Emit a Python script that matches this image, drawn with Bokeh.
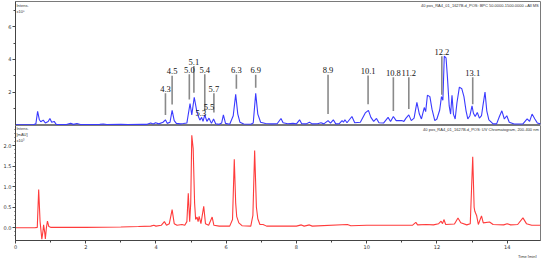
from bokeh.plotting import figure
from bokeh.layouts import column
from bokeh.models import Range1d, FixedTicker, Label, ColumnDataSource, Title, PrintfTickFormatter
from bokeh.core.properties import value
from bokeh.embed import file_html
from bokeh.resources import INLINE

# ---- BPC (upper, x10^5) ----
bpc_t = [0.0, 0.5, 0.58, 0.63, 0.68, 0.72, 0.79, 0.85, 0.93, 0.98, 1.03, 1.1, 1.16, 1.45, 1.57, 1.65, 1.75, 1.85,
         2.4, 2.5, 2.6, 3.0, 3.2, 3.6, 3.75, 3.85, 3.92, 3.99, 4.08, 4.2, 4.27, 4.32, 4.4, 4.46, 4.52, 4.58, 4.7,
         4.78, 4.88, 4.97, 5.02, 5.09, 5.16, 5.2, 5.25, 5.3, 5.34, 5.39, 5.45, 5.51, 5.58, 5.64, 5.7, 5.8, 5.87,
         5.92, 5.98, 6.1, 6.2, 6.27, 6.33, 6.39, 6.5, 6.7, 6.77, 6.84, 6.9, 6.98, 7.12, 7.3, 7.45, 7.56, 7.62,
         7.75, 7.9, 8.0, 8.09, 8.15, 8.28, 8.37, 8.45, 8.6, 8.7, 8.78, 8.9, 8.97, 9.05, 9.12, 9.22, 9.3, 9.34,
         9.38, 9.44, 9.58, 9.66, 9.82, 9.96, 10.05, 10.12, 10.2, 10.28, 10.35, 10.48, 10.61, 10.68, 10.76, 10.84,
         11.0, 11.06, 11.12, 11.2, 11.27, 11.35, 11.43, 11.5, 11.56, 11.64, 11.68, 11.73, 11.8, 11.86, 11.94,
         12.0, 12.08, 12.13, 12.17, 12.21, 12.26, 12.3, 12.35, 12.39, 12.43, 12.47, 12.52, 12.57, 12.64, 12.71,
         12.77, 12.83, 12.88, 12.94, 13.0, 13.04, 13.09, 13.15, 13.21, 13.27, 13.31, 13.37, 13.42, 13.48, 13.6,
         13.7, 13.78, 13.85, 13.92, 13.99, 14.06, 14.2, 14.45, 14.57, 14.64, 14.71, 14.79, 14.86, 14.95]
bpc_v = [0.0, 0.0, 0.05, 0.82, 0.3, 0.18, 0.28, 0.1, 0.2, 0.38, 0.15, 0.2, 0.02, 0.01, 0.08, 0.02, 0.07, 0.01,
         0.02, 0.04, 0.01, 0.03, 0.01, 0.03, 0.02, 0.1, 0.04, 0.12, 0.05, 0.15, 0.3, 0.08, 0.15, 0.88, 0.25, 0.08, 0.05,
         0.07, 0.1, 1.3, 0.6, 1.68, 0.85, 0.55, 0.28, 0.45, 0.2, 0.6, 0.2, 0.4, 0.08, 0.35, 0.06, 0.02, 0.1,
         0.6, 0.08, 0.03, 0.55, 1.86, 0.65, 0.15, 0.04, 0.03, 0.1, 1.92, 0.65, 0.15, 0.07, 0.05, 0.06, 0.38, 0.12,
         0.06, 0.08, 0.05, 0.3, 0.06, 0.05, 0.15, 0.05, 0.06, 0.12, 0.05, 0.25, 0.1, 0.3, 0.05, 0.06, 0.25, 0.15,
         0.3, 0.12, 0.5, 0.12, 0.15, 0.72, 0.88, 0.45, 0.2, 0.38, 0.12, 0.1, 0.45, 0.2, 0.5, 0.25,
         0.25, 0.2, 0.4, 0.6, 0.25, 0.4, 1.37, 0.65, 0.35, 1.05, 0.8, 1.8, 1.72, 0.95, 0.25,
         0.35, 0.9, 1.72, 1.5, 4.2, 4.1, 2.9, 1.15, 0.65, 1.8, 0.65, 0.35, 1.33, 2.3, 2.2,
         1.72, 0.85, 0.35, 0.55, 1.15, 0.7, 0.5, 0.75, 0.4, 0.55, 1.15, 2.0, 0.85, 0.3, 0.05,
         0.05, 0.5, 0.85, 0.35, 0.55, 0.15, 0.04, 0.05, 0.35, 0.2, 0.65, 0.35, 0.1, 0.05]

# ---- UV (lower, mAU x10^3) ----
uv_t = [0.0, 0.55, 0.62, 0.66, 0.7, 0.75, 0.78, 0.8, 0.83, 0.85, 0.88, 0.91, 0.95, 1.0, 2.0, 3.0, 3.5, 3.85, 3.94,
        4.0, 4.15, 4.24, 4.3, 4.38, 4.46, 4.52, 4.6, 4.74, 4.82, 4.88, 4.92, 4.96, 4.99, 5.02, 5.06, 5.1, 5.13,
        5.17, 5.2, 5.23, 5.28, 5.36, 5.41, 5.5, 5.6, 5.65, 5.8, 6.1, 6.18, 6.23, 6.27, 6.3, 6.36, 6.45, 6.7,
        6.76, 6.81, 6.86, 6.9, 6.96, 7.05, 7.15, 8.0, 8.14, 8.22, 8.37, 8.45, 9.45, 9.55, 10.0, 11.3, 11.4,
        11.45, 11.7, 11.9, 12.05, 12.12, 12.16, 12.2, 12.25, 12.5, 12.6, 12.68, 12.85, 12.95, 13.02, 13.06,
        13.08, 13.13, 13.18, 13.27, 13.32, 13.5, 13.6, 13.9, 14.0, 14.1, 14.3, 14.45, 14.55, 14.7, 14.95]
uv_v = [0.0, 0.0, 0.01, 0.93, 0.15, -0.28, -0.1, 0.07, -0.1, -0.27, 0.0, 0.16, 0.03, 0.01, 0.01, 0.02, 0.03, 0.04, 0.06,
        0.04, 0.06, 0.15, 0.06, 0.1, 0.44, 0.1, 0.06, 0.08, 0.06, 0.15, 0.84, 0.15, 0.6, 2.25, 1.92, 0.6, 0.2,
        0.26, 0.15, 0.28, 0.1, 0.52, 0.1, 0.06, 0.26, 0.06, 0.04, 0.04, 0.2, 1.67, 0.6, 0.27, 0.12, 0.05, 0.04,
        0.3, 1.88, 0.5, 0.22, 0.08, 0.08, 0.04, 0.04, 0.07, 0.04, 0.07, 0.04, 0.08, 0.05, 0.06, 0.06, 0.13,
        0.07, 0.08, 0.07, 0.1, 0.16, 0.1, 0.2, 0.08, 0.09, 0.24, 0.12, 0.07, 0.1, 1.73, 0.5,
        0.4, 0.3, 0.08, 0.29, 0.12, 0.14, 0.08, 0.07, 0.1, 0.07, 0.08, 0.24, 0.1, 0.06, 0.06]

# ---- peak annotations ----
peak_labels = ["4.3", "4.5", "5.0", "5.1", "5.4", "5.7", "6.3", "6.9", "8.9", "10.1", "10.8", "11.2", "12.2", "13.1"]
peak_t = [4.27, 4.46, 4.95, 5.08, 5.39, 5.65, 6.29, 6.84, 8.9, 10.04, 10.76, 11.2, 12.14, 13.02]
line_top = [1.92, 3.0, 3.09, 3.59, 3.09, 1.92, 3.07, 3.06, 3.06, 3.02, 2.9, 2.9, 4.19, 2.9]
line_bot = [0.59, 1.24, 1.55, 1.96, 0.84, 0.74, 2.2, 2.27, 0.65, 1.25, 0.84, 0.96, 1.84, 1.25]
free_labels = ["5.3", "5.5"]
free_t = [5.28, 5.51]
free_v = [0.52, 0.93]

xticks = [0, 2, 4, 6, 8, 10, 12, 14]

xr = Range1d(0, 14.95)
TICKFONT = "5px"
AX = "#444444"
OUT = "#7a7a7a"


def style_axes(p):
    for ax in p.axis:
        ax.axis_line_color = AX
        ax.major_tick_line_color = AX
        ax.minor_tick_line_color = AX
        ax.major_tick_in = 0
        ax.major_tick_out = 3
        ax.minor_tick_in = 0
        ax.minor_tick_out = 2
        ax.major_label_text_font_size = TICKFONT
        ax.major_label_text_color = "#333333"
        ax.major_label_standoff = 1
        ax.major_label_text_font = "DejaVu Sans"
    p.xgrid.visible = False
    p.ygrid.visible = False
    p.outline_line_color = OUT
    p.outline_line_width = 1


# upper
p1 = figure(width=542, height=125, x_range=xr, y_range=Range1d(-0.05, 7.55),
            output_backend="svg", toolbar_location=None,
            min_border_left=14, min_border_right=2, min_border_top=1, min_border_bottom=0)
style_axes(p1)
p1.xaxis.visible = False
p1.yaxis.ticker = FixedTicker(ticks=[2, 4, 6], minor_ticks=[1, 3, 5, 7])
p1.line(bpc_t, bpc_v, line_color="#3a3aff", line_width=1.1)
p1.segment(x0=peak_t, y0=line_bot, x1=peak_t, y1=line_top, line_color="#8a8a8a", line_width=1.6)
src = ColumnDataSource(dict(x=peak_t, y=[v + 0.08 for v in line_top], t=peak_labels))
p1.text(x="x", y="y", text="t", source=src, text_font=value("Liberation Serif"), text_font_size="8.5px",
        text_align="center", text_baseline="bottom", text_color="#111111")
src2 = ColumnDataSource(dict(x=free_t, y=free_v, t=free_labels))
p1.text(x="x", y="y", text="t", source=src2, text_font=value("Liberation Serif"), text_font_size="8.5px",
        text_align="center", text_baseline="bottom", text_color="#111111")
p1.add_layout(Label(x=14.9, y=7.45, text="40 pos_RA4_01_1627B.d_POS: BPC 50.0000-1500.0000 +All MS",
                    text_font_size="4px", text_align="right", text_baseline="top", text_color="#333333"))
p1.add_layout(Label(x=1, y=7.45, x_units="screen", text="Intens.\nx10\u2075",
                    text_font_size="4px", text_align="left", text_baseline="top", text_color="#333333"))

# lower
p2 = figure(width=542, height=133, x_range=xr, y_range=Range1d(-0.31, 2.49),
            output_backend="svg", toolbar_location=None,
            min_border_left=14, min_border_right=2, min_border_top=0, min_border_bottom=0)
style_axes(p2)
p2.xaxis.ticker = FixedTicker(ticks=xticks, minor_ticks=[1, 3, 5, 7, 9, 11, 13])
p2.yaxis.ticker = FixedTicker(ticks=[0, 0.5, 1.0, 1.5, 2.0],
                              minor_ticks=[-0.2, -0.1, 0.1, 0.2, 0.3, 0.4, 0.6, 0.7, 0.8, 0.9, 1.1, 1.2, 1.3, 1.4,
                                           1.6, 1.7, 1.8, 1.9, 2.1, 2.2, 2.3, 2.4])
p2.yaxis.minor_tick_out = 1
p2.yaxis.formatter = PrintfTickFormatter(format="%.1f")
p2.line(uv_t, uv_v, line_color="#ff3b3b", line_width=1.1)
p2.add_layout(Label(x=14.9, y=2.46, text="40 pos_RA4_01_1627B.d_POS: UV Chromatogram, 200-400 nm",
                    text_font_size="4px", text_align="right", text_baseline="top", text_color="#333333"))
p2.add_layout(Label(x=1, y=2.47, x_units="screen", text="Intens.\n[mAU]\nx10\u00b3",
                    text_font_size="4px", text_align="left", text_baseline="top", text_color="#333333"))
p2.add_layout(Title(text="Time [min]", align="right", text_font_size="4px", text_font_style="normal",
                    text_color="#333333", standoff=0, offset=4), "below")

layout = column(p1, p2, spacing=0)
open("out.html", "w").write(file_html(layout, INLINE))
